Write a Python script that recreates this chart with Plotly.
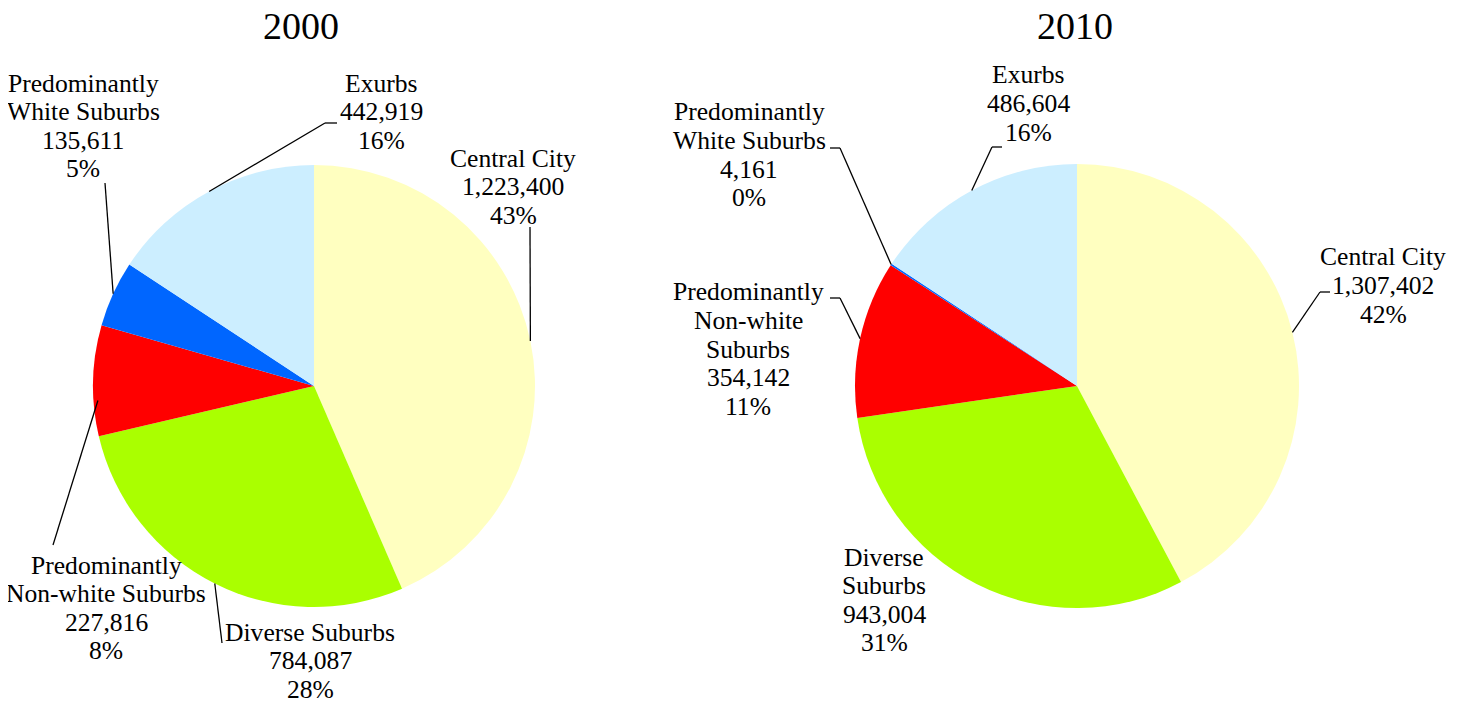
import math
import plotly.graph_objects as go

# ---------------- data ----------------
categories = ["Central City", "Diverse Suburbs", "Predominantly Non-white Suburbs",
              "Predominantly White Suburbs", "Exurbs"]
years = ["2000", "2010"]
values_2000 = [1223400, 784087, 227816, 135611, 442919]
values_2010 = [1307402, 943004, 354142, 4161, 486604]
pct_2000 = [43, 28, 8, 5, 16]
pct_2010 = [42, 31, 11, 0, 16]
name_lines_2000 = [["Central City"], ["Diverse Suburbs"], ["Predominantly", "Non-white Suburbs"],
                   ["Predominantly", "White Suburbs"], ["Exurbs"]]
name_lines_2010 = [["Central City"], ["Diverse", "Suburbs"], ["Predominantly", "Non-white", "Suburbs"],
                   ["Predominantly", "White Suburbs"], ["Exurbs"]]

# ---------------- style / layout ----------------
colors = ["#FFFFC0", "#AAFF00", "#FF0000", "#0066FF", "#CCEEFF"]
OFF = 8                       # page body margin in the browser
W, H = 1463 - 2 * OFF, 707 - 2 * OFF
FONT = "Liberation Serif, Times New Roman, serif"
LINE_STEP = 28.6

pies = [
    dict(cx=314, cy=386, r=221, title_xy=(301, 26),
         label_xy=[(513, 158), (310, 632), (106, 565), (83, 83), (381, 83)],
         leader=[[(530, 227)], [(222, 643)], [(53, 545)], [(105, 183)], [(325, 123), (337, 123)]],
         anchor_frac=[0.5, 0.5, 0.32, 0.5, 0.5],
         anchor_r=[1.0, 1.0, 0.98, 1.0, 1.0]),
    dict(cx=1077, cy=386, r=222, title_xy=(1075, 26),
         label_xy=[(1383, 257), (884, 557), (748, 292), (749, 112), (1028, 75)],
         leader=[[(1320, 292), (1330, 292)], None, [(840, 298), (830, 298)],
                 [(840, 148), (830, 148)], [(992, 147), (1002, 147)]],
         anchor_frac=[0.5, 0.5, 0.5, 0.5, 0.5],
         anchor_r=[1.0, 1.0, 1.0, 1.0, 1.0]),
]


def px(x):
    return (x - OFF) / W


def py(y):
    return 1 - (y - OFF) / H


fig = go.Figure()
annotations = []
shapes = []

for year, vals, pcts, names, p in zip(years, [values_2000, values_2010], [pct_2000, pct_2010],
                                       [name_lines_2000, name_lines_2010], pies):
    cx, cy, r = p["cx"], p["cy"], p["r"]
    fig.add_trace(go.Pie(
        labels=categories, values=vals, sort=False, direction="clockwise", rotation=0,
        marker=dict(colors=colors, line=dict(width=0)), textinfo="none", hoverinfo="skip",
        showlegend=False,
        domain=dict(x=[px(cx - r), px(cx + r)], y=[py(cy + r), py(cy - r)]),
    ))
    # title
    annotations.append(dict(text=year, x=px(p["title_xy"][0]), y=py(p["title_xy"][1]),
                            xref="paper", yref="paper", showarrow=False,
                            xanchor="center", yanchor="middle",
                            font=dict(family=FONT, size=38, color="black")))
    total = sum(vals)
    cum = 0.0
    for i, v in enumerate(vals):
        frac = v / total
        # labels
        lines = names[i] + [f"{v:,}", f"{pcts[i]}%"]
        lx, ly = p["label_xy"][i]
        for k, t in enumerate(lines):
            annotations.append(dict(text=t, x=px(lx), y=py(ly + k * LINE_STEP),
                                    xref="paper", yref="paper", showarrow=False,
                                    xanchor="center", yanchor="middle",
                                    font=dict(family=FONT, size=25.6, color="black")))
        # leader line from slice edge
        if p["leader"][i]:
            theta = 2 * math.pi * (cum + frac * p["anchor_frac"][i])
            rr = r * p["anchor_r"][i]
            pts = [(cx + rr * math.sin(theta), cy - rr * math.cos(theta))] + p["leader"][i]
            for (x0, y0), (x1, y1) in zip(pts[:-1], pts[1:]):
                shapes.append(dict(type="line", xref="paper", yref="paper",
                                   x0=px(x0), y0=py(y0), x1=px(x1), y1=py(y1),
                                   line=dict(color="black", width=1.3)))
        cum += frac

fig.update_layout(width=W, height=H, margin=dict(l=0, r=0, t=0, b=0),
                  paper_bgcolor="white", plot_bgcolor="white",
                  annotations=annotations, shapes=shapes, hovermode=False)

fig.write_html("out.html")
